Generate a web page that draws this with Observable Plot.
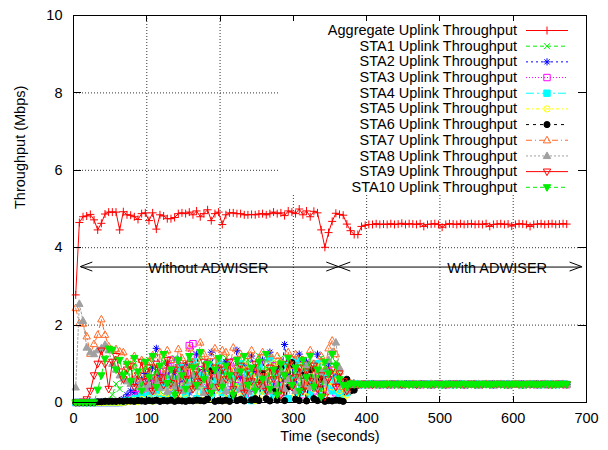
<!DOCTYPE html>
<html><head><meta charset="utf-8">
<script src="https://cdn.jsdelivr.net/npm/d3@7"></script>
<script src="https://cdn.jsdelivr.net/npm/@observablehq/plot@0.6"></script>
<style>body{margin:0;background:#fff}svg{display:block}</style>
</head><body><div id="chart"></div>
<script>
// sampling: first sample time and step (seconds)
const t0 = 3, dt = 5;

const aggregate = [
2.78,4.65,4.80,4.82,4.86, 4.72,4.46,4.63,4.87,4.92, 4.92,4.92,4.46,4.93,4.85, 4.84,4.80,4.73,4.88,4.90,
4.70,4.90,4.48,4.85,4.82, 4.75,4.75,4.78,4.88,4.90, 4.88,4.92,4.85,4.95,4.80, 4.88,4.98,4.70,4.88,4.92,
4.60,4.85,4.90,4.90,4.88, 4.88,4.85,4.85,4.86,4.85, 4.87,4.88,4.85,4.88,4.92, 4.88,4.90,4.83,4.95,4.92,
4.88,5.00,4.85,4.95,4.80, 4.94,4.90,4.46,4.01,4.39, 4.68,4.89,4.86,4.84,4.61,
4.44,4.34,4.34,4.55,4.58, 4.60,4.60,4.62,4.60,4.61, 4.60,4.62,4.60,4.61,4.63, 4.60,4.62,4.61,4.60,4.62,
4.55,4.60,4.61,4.62,4.60, 4.53,4.60,4.62,4.61,4.60, 4.62,4.60,4.61,4.62,4.60, 4.61,4.60,4.62,4.55,4.60,
4.61,4.62,4.60,4.61,4.56, 4.60,4.62,4.61,4.60,4.55, 4.60,4.61,4.62,4.60,4.61, 4.62,4.60,4.61,4.62,4.61];

const sta1 = [
0,0,0,0,0, 0,0,0,0,0.05, 0.20,0.48,0.35,0.65,0.80, 0.55,1.00,0.70,0.40,0.95, 1.10,0.60,0.85,0.30,1.05,
0.75,0.45,1.15,0.90,0.50, 1.00,0.65,0.35,0.95,1.20, 0.70,0.40,1.05,0.85,0.30, 0.90,1.15,0.55,0.75,1.00,
0.45,0.85,1.10,0.35,0.80, 1.20,0.60,0.90,0.40,1.05, 0.70,1.15,0.30,0.85,0.95, 0.50,1.10,0.75,0.35,1.00,
0.85,0.45,1.15,0.65,0.90, 0.55,1.05,0.70,0.40,0.35,
0.52,0.49,0.47,0.47,0.48,0.46,0.47,0.48,0.47,0.46, 0.47,0.48,0.46,0.47,0.47,0.48,0.47,0.46,0.47,0.48,
0.46,0.47,0.48,0.47,0.46,0.47,0.47,0.48,0.46,0.47, 0.48,0.47,0.46,0.47,0.48,0.47,0.46,0.47,0.47,0.48,
0.47,0.46,0.47,0.48,0.46,0.47,0.47,0.48,0.47,0.46, 0.47,0.48,0.47,0.46,0.47,0.48,0.47,0.46,0.47,0.47];

const sta2 = [
0,0,0,0,0, 0,0,0,0,0, 0,0,0.05,0.10,0.20, 0.30,0.25,0.45,0.60,0.75, 0.40,0.90,1.40,0.70,0.55,
1.00,0.35,0.80,1.10,0.50, 0.95,0.25,0.70,1.25,0.60, 0.85,0.40,1.30,0.55,0.90, 0.30,1.05,0.75,0.50,1.35,
0.65,0.95,0.35,1.20,0.80, 0.45,1.10,0.60,1.30,0.40, 0.85,0.55,1.50,0.70,0.95, 0.30,1.25,0.65,1.05,0.45,
0.90,1.25,0.55,0.80,1.00, 0.35,0.70,0.50,0.40,0.30,
0.45,0.50,0.48,0.47,0.46,0.47,0.48,0.47,0.46,0.47, 0.48,0.46,0.47,0.47,0.48,0.46,0.47,0.48,0.47,0.46,
0.47,0.48,0.47,0.46,0.47,0.48,0.46,0.47,0.47,0.48, 0.46,0.47,0.48,0.47,0.46,0.47,0.48,0.47,0.46,0.47,
0.48,0.47,0.46,0.47,0.47,0.48,0.46,0.47,0.48,0.47, 0.46,0.47,0.48,0.47,0.46,0.47,0.47,0.48,0.46,0.47];

const sta3 = [
0,0,0,0,0, 0,0,0,0,0, 0,0,0,0.02,0.05, 0.10,0.20,0.15,0.35,0.25, 0.50,0.30,0.65,0.45,0.80,
0.40,1.10,0.55,0.90,0.35, 0.75,1.47,1.52,0.60,0.85, 0.45,1.00,0.30,0.70,0.95, 0.50,0.80,0.25,1.05,0.60,
0.35,0.90,0.70,0.20,0.85, 1.00,0.45,0.65,0.30,0.95, 0.55,0.25,0.80,0.60,1.10, 0.40,0.70,0.20,0.90,0.55,
0.30,0.95,0.60,0.35,0.80, 0.50,0.25,0.45,0.35,0.30,
0.44,0.47,0.46,0.48,0.47,0.46,0.47,0.48,0.46,0.47, 0.47,0.46,0.48,0.47,0.46,0.47,0.48,0.47,0.47,0.46,
0.48,0.47,0.46,0.47,0.48,0.47,0.46,0.47,0.48,0.47, 0.47,0.46,0.47,0.48,0.47,0.46,0.47,0.47,0.48,0.46,
0.47,0.48,0.47,0.46,0.47,0.47,0.48,0.46,0.47,0.48, 0.47,0.46,0.47,0.48,0.46,0.47,0.47,0.48,0.47,0.46];

const sta4 = [
0,0,0,0,0, 0,0,0,0,0, 0,0,0,0.02,0.05, 0.05,0.10,0.05,0.15,0.08, 0.20,0.05,0.30,0.10,0.45,
0.15,0.60,0.08,0.35,0.90, 0.20,0.50,1.05,0.10,0.70, 0.30,0.95,0.15,0.55,1.10, 0.25,0.80,0.10,0.65,0.40,
1.00,0.20,0.75,0.05,0.50, 0.90,0.30,0.60,1.15,0.15, 0.70,0.40,0.95,0.10,0.55, 1.05,0.25,0.65,0.80,0.20,
0.50,1.00,0.15,0.75,0.45, 0.30,0.60,0.20,0.35,0.25,
0.46,0.47,0.48,0.46,0.47,0.48,0.47,0.46,0.47,0.48, 0.46,0.47,0.47,0.48,0.46,0.47,0.48,0.47,0.46,0.47,
0.47,0.48,0.46,0.47,0.47,0.46,0.48,0.47,0.46,0.47, 0.48,0.46,0.47,0.47,0.48,0.46,0.47,0.48,0.47,0.46,
0.47,0.47,0.48,0.46,0.47,0.48,0.47,0.46,0.47,0.47, 0.48,0.47,0.46,0.47,0.48,0.47,0.46,0.47,0.48,0.47];

const sta5 = [
0,0,0,0,0, 0,0,0,0,0, 0,0,0,0,0.02, 0.03,0.05,0.02,0.08,0.05, 0.10,0.03,0.15,0.05,0.25,
0.08,0.40,0.05,0.20,0.55, 0.10,0.35,0.80,0.05,0.45, 0.20,0.70,0.10,0.90,0.30, 0.60,0.05,0.85,0.25,0.50,
0.15,0.95,0.40,0.70,0.05, 0.55,0.20,0.80,0.35,1.00, 0.10,0.65,0.30,0.85,0.45, 0.20,0.90,0.50,0.15,0.75,
0.35,0.60,0.95,0.25,0.55, 0.40,0.70,0.30,0.10,0.20,
0.45,0.46,0.47,0.48,0.46,0.47,0.47,0.48,0.46,0.47, 0.48,0.47,0.46,0.47,0.48,0.46,0.47,0.47,0.48,0.47,
0.46,0.47,0.48,0.47,0.46,0.47,0.48,0.46,0.47,0.47, 0.48,0.47,0.46,0.48,0.47,0.46,0.47,0.48,0.47,0.46,
0.47,0.48,0.46,0.47,0.47,0.48,0.47,0.46,0.47,0.48, 0.46,0.47,0.47,0.48,0.46,0.47,0.48,0.47,0.46,0.47];

const sta6 = [
0,0,0,0,0, 0,0.02,0.02,0.03,0.03, 0.03,0.03,0.04,0.03,0.04, 0.04,0.03,0.05,0.04,0.03, 0.05,0.04,0.06,0.03,0.05,
0.04,0.06,0.03,0.05,0.04, 0.03,0.05,0.04,0.06,0.05, 0.04,0.10,0.82,0.03,0.05, 0.04,0.06,0.03,0.20,0.05,
0.08,0.04,0.55,0.06,0.10, 0.05,0.75,0.10,0.04,0.30, 0.06,0.90,0.05,0.40,1.03, 0.08,0.05,0.70,0.04,0.85,
0.10,0.05,0.60,0.03,0.05, 0.04,0.06,0.05,0.03,0.60,
0.30,0.32,0.45,0.47,0.46,0.47,0.48,0.47,0.46,0.47, 0.47,0.48,0.46,0.47,0.47,0.48,0.47,0.46,0.47,0.48,
0.46,0.47,0.48,0.47,0.46,0.47,0.47,0.48,0.46,0.47, 0.48,0.47,0.46,0.47,0.48,0.47,0.46,0.47,0.47,0.48,
0.47,0.46,0.47,0.48,0.46,0.47,0.47,0.48,0.47,0.46, 0.47,0.48,0.47,0.46,0.47,0.48,0.47,0.46,0.47,0.47];

const sta7 = [
2.44,2.05,2.04,1.71,1.26, 1.51,1.75,2.15,1.75,1.45, 1.35,1.38,1.32,1.30,1.05, 0.95,1.20,0.62,1.10,0.85, 1.05,1.22,0.55,1.30,0.75,
1.35,1.10,0.45,1.38,1.15, 0.70,1.40,1.05,0.60,1.55, 1.25,0.80,1.20,1.40,0.50, 1.35,1.30,0.85,1.42,0.95,
1.25,0.40,1.20,1.35,0.90, 1.15,1.30,0.65,1.25,0.80, 1.20,1.05,0.35,1.30,0.95, 1.25,0.70,1.10,0.45,1.35,
1.00,0.60,1.20,0.85,1.40, 1.60,1.25,0.80,0.40,0.35,
0.50,0.48,0.47,0.46,0.47,0.48,0.47,0.46,0.47,0.47, 0.48,0.46,0.47,0.48,0.47,0.46,0.47,0.48,0.47,0.46,
0.47,0.47,0.48,0.46,0.47,0.48,0.47,0.46,0.47,0.48, 0.47,0.46,0.47,0.47,0.48,0.46,0.47,0.48,0.47,0.46,
0.47,0.48,0.47,0.46,0.47,0.48,0.46,0.47,0.47,0.48, 0.47,0.46,0.47,0.48,0.47,0.46,0.47,0.47,0.48,0.47];

const sta8 = [
0.39,2.55,2.11,1.42,1.30, 1.25,1.35,1.40,1.49,1.35, 1.00,0.85,0.70,0.62,0.55, 0.48,0.60,0.40,0.52,0.35, 0.45,0.30,0.55,0.38,0.62,
0.28,0.50,0.42,0.65,0.30, 0.55,0.35,0.72,0.40,0.48, 0.25,0.60,0.45,0.38,0.70, 0.52,0.30,0.65,0.42,0.80,
0.35,0.55,0.28,0.62,0.45, 0.75,0.40,0.58,0.30,0.68, 0.45,0.85,0.35,0.60,0.50, 0.30,0.72,0.48,0.95,0.40,
0.62,0.35,0.80,0.55,1.10, 1.30,1.55,0.90,0.45,0.30,
0.47,0.46,0.48,0.47,0.46,0.47,0.48,0.47,0.46,0.47, 0.47,0.48,0.46,0.47,0.48,0.47,0.46,0.47,0.47,0.48,
0.46,0.47,0.48,0.47,0.46,0.47,0.47,0.48,0.46,0.47, 0.48,0.47,0.46,0.47,0.47,0.48,0.47,0.46,0.47,0.48,
0.46,0.47,0.47,0.48,0.46,0.47,0.48,0.47,0.46,0.47, 0.47,0.48,0.46,0.47,0.47,0.48,0.47,0.46,0.47,0.47];

const sta9 = [
0,0,0.02,0.08,0.30, 0.70,1.00,1.34,1.00,0.35, 1.05,1.20,0.80,0.60,0.85, 0.95,0.40,0.70,1.05,0.55, 0.90,0.30,1.00,0.65,0.45,
1.10,0.50,0.85,0.25,0.95, 0.60,1.00,0.35,0.80,0.55, 1.05,0.30,0.75,0.90,0.40, 0.85,0.60,1.05,0.35,0.70,
0.95,0.25,0.80,0.55,1.00, 0.45,0.75,0.30,0.90,0.60, 0.85,0.20,0.70,1.00,0.40, 0.65,0.90,0.30,0.80,0.55,
0.95,0.35,0.70,0.15,0.60, 0.85,0.40,0.75,0.55,0.30,
0.48,0.47,0.46,0.47,0.48,0.47,0.46,0.47,0.47,0.48, 0.46,0.47,0.48,0.47,0.46,0.47,0.47,0.48,0.46,0.47,
0.48,0.47,0.46,0.47,0.48,0.47,0.46,0.47,0.47,0.48, 0.47,0.46,0.47,0.48,0.46,0.47,0.47,0.48,0.47,0.46,
0.47,0.48,0.47,0.46,0.47,0.48,0.47,0.46,0.47,0.47, 0.48,0.46,0.47,0.48,0.47,0.46,0.47,0.48,0.47,0.47];

const sta10 = [
0,0,0,0,0, 0,0.33,0.70,1.13,1.39, 1.36,0.85,1.10,0.70,1.00, 0.55,1.15,0.80,0.30,1.05, 0.65,1.20,0.40,0.95,1.25,
0.50,0.85,0.20,1.10,0.70, 0.35,1.20,0.90,0.45,1.30, 0.60,1.00,0.25,0.85,1.15, 0.40,0.95,0.70,0.20,1.10,
0.80,1.20,0.45,0.90,0.30, 1.05,0.60,1.25,0.35,0.85, 0.20,1.00,0.70,1.15,0.45, 0.90,0.30,1.10,0.65,1.20,
0.40,0.85,0.15,1.05,0.75, 1.25,0.95,0.60,0.45,0.40,
0.49,0.47,0.48,0.47,0.46,0.47,0.48,0.47,0.47,0.46, 0.48,0.47,0.46,0.47,0.48,0.47,0.46,0.47,0.48,0.47,
0.47,0.46,0.47,0.48,0.47,0.46,0.47,0.48,0.47,0.46, 0.47,0.48,0.47,0.47,0.46,0.47,0.48,0.47,0.46,0.47,
0.48,0.47,0.46,0.47,0.47,0.48,0.47,0.46,0.47,0.48, 0.47,0.46,0.47,0.48,0.47,0.46,0.47,0.47,0.48,0.47];

const seriesNames = ["Aggregate Uplink Throughput","STA1 Uplink Throughput","STA2 Uplink Throughput",
  "STA3 Uplink Throughput","STA4 Uplink Throughput","STA5 Uplink Throughput","STA6 Uplink Throughput",
  "STA7 Uplink Throughput","STA8 Uplink Throughput","STA9 Uplink Throughput","STA10 Uplink Throughput"];
const seriesValues = [aggregate, sta1, sta2, sta3, sta4, sta5, sta6, sta7, sta8, sta9, sta10];

const xTicks = [0,100,200,300,400,500,600,700];
const yTicks = [0,2,4,6,8,10];
const xTitle = "Time (seconds)";
const yTitle = "Throughput (Mbps)";

// phase annotations (double-headed arrows)
const phaseLabels = ["Without ADWISER", "With ADWISER"];
const phaseFrom = [10, 362];
const phaseTo = [362, 694];
const phaseLabelX = [184, 578];
const phaseY = 3.5;

// ---------- styles ----------
const FONT = "'Liberation Sans', Arial, Helvetica, sans-serif";
const FS = 14.5;
const colors = ["#ff0000","#00ee00","#0000ff","#ff00ff","#00ffff","#ffff00","#000000","#ff6a28","#a0a0a0","#ff0000","#00ee00"];
const dashes = [null,"4,3","2,3","1,2","8,3,2,3","3,3,1,3","3,4","6,3,1,3","2,2",null,"4,3"];
const sym = {
  plus:{draw(c){c.moveTo(-4,0);c.lineTo(4,0);c.moveTo(0,-4);c.lineTo(0,4);}},
  times:{draw(c){c.moveTo(-3,-3);c.lineTo(3,3);c.moveTo(-3,3);c.lineTo(3,-3);}},
  star:{draw(c){c.moveTo(-3.6,0);c.lineTo(3.6,0);c.moveTo(0,-3.6);c.lineTo(0,3.6);c.moveTo(-2.6,-2.6);c.lineTo(2.6,2.6);c.moveTo(-2.6,2.6);c.lineTo(2.6,-2.6);}},
  square:{draw(c){c.rect(-3.2,-3.2,6.4,6.4);}},
  circle:{draw(c){c.moveTo(3.1,0);c.arc(0,0,3.1,0,2*Math.PI);}},
  triUp:{draw(c){c.moveTo(0,-4);c.lineTo(3.7,2.6);c.lineTo(-3.7,2.6);c.closePath();}},
  triDown:{draw(c){c.moveTo(0,4);c.lineTo(3.7,-2.6);c.lineTo(-3.7,-2.6);c.closePath();}}
};
const symbols = [sym.plus, sym.times, sym.star, sym.square, sym.square, sym.circle, sym.circle, sym.triUp, sym.triUp, sym.triDown, sym.triDown];
const filled = [false,false,false,false,true,false,true,false,true,false,true];

const seriesData = seriesValues.map(vals => vals.map((v, i) => ({t: t0 + i * dt, v})));

const marks = [
  Plot.gridX(xTicks.slice(1, -1), {stroke: "#333", strokeOpacity: 1, strokeDasharray: "1,2"}),
  Plot.gridY(yTicks.slice(1, -1), {stroke: "#333", strokeOpacity: 1, strokeDasharray: "1,2"}),
  Plot.axisX(xTicks, {tickSize: 0, tickPadding: 10, fontSize: FS, label: null}),
  Plot.axisY(yTicks, {tickSize: 0, tickPadding: 11, fontSize: FS, label: null}),
];
seriesData.forEach((d, i) => {
  marks.push(Plot.line(d, {x: "t", y: "v", stroke: colors[i], strokeWidth: 1, strokeDasharray: dashes[i]}));
  marks.push(Plot.dot(d, {x: "t", y: "v", symbol: symbols[i], r: 3.5,
    stroke: colors[i], strokeWidth: 1, fill: filled[i] ? colors[i] : "none"}));
});
const phases = phaseLabels.map((label, i) => ({label, x1: phaseFrom[i], x2: phaseTo[i], lx: phaseLabelX[i], y: phaseY}));
marks.push(Plot.link(phases, {x1: "x1", x2: "x2", y1: "y", y2: "y", stroke: "#000", strokeWidth: 1}));
marks.push(Plot.text(phases, {x: "lx", y: "y", text: "label", fontSize: FS, fill: "#000", dy: 1}));
marks.push(Plot.text([xTitle], {frameAnchor: "bottom", text: d => d, dy: 38, fontSize: FS, fill: "#000"}));
marks.push(Plot.text([yTitle], {frameAnchor: "left", text: d => d, dx: -53, rotate: -90, fontSize: FS, fill: "#000"}));

const plot = Plot.plot({
  width: 608, height: 450,
  marginLeft: 73, marginRight: 22, marginTop: 15, marginBottom: 48,
  style: {fontFamily: FONT, fontSize: FS + "px", background: "#fff", color: "#000"},
  x: {domain: [0, 700]},
  y: {domain: [0, 10]},
  marks
});
document.getElementById("chart").appendChild(plot);

// ---------- post-render: arrowheads, legend, frame, ticks ----------
const sx = plot.scale("x"), sy = plot.scale("y");
const svg = d3.select(plot);
const X0 = sx.apply(0), X1 = sx.apply(700), Y0 = sy.apply(0), Y1 = sy.apply(10);

// arrowheads (open, gnuplot style)
const ah = svg.append("g").attr("stroke", "#000").attr("fill", "none").attr("stroke-width", 1);
phases.forEach(p => {
  const ya = sy.apply(p.y), xa = sx.apply(p.x1), xb = sx.apply(p.x2);
  ah.append("path").attr("d", `M${xa + 12},${ya - 4.5}L${xa},${ya}L${xa + 12},${ya + 4.5}`);
  ah.append("path").attr("d", `M${xb - 12},${ya - 4.5}L${xb},${ya}L${xb - 12},${ya + 4.5}`);
});

// legend (opaque key box)
const lg = svg.append("g").attr("font-family", FONT).attr("font-size", FS);
lg.append("rect").attr("x", 278).attr("y", Y1).attr("width", X1 - 278).attr("height", 194 - Y1).attr("fill", "#fff");
seriesNames.forEach((name, i) => {
  const yy = 30 + i * 15.68;
  lg.append("text").attr("x", 517).attr("y", yy).attr("dy", "0.35em").attr("text-anchor", "end").attr("fill", "#000").text(name);
  lg.append("line").attr("x1", 526).attr("x2", 568).attr("y1", yy + 0.5).attr("y2", yy + 0.5)
    .attr("stroke", colors[i]).attr("stroke-width", 1).attr("stroke-dasharray", dashes[i]);
  lg.append("path").attr("transform", `translate(547,${yy + 0.5})`).attr("d", d3.symbol(symbols[i])())
    .attr("stroke", colors[i]).attr("stroke-width", 1).attr("fill", filled[i] ? colors[i] : "none");
});

// frame and inward ticks on all four sides
const fr = svg.append("g").attr("stroke", "#000").attr("fill", "none").attr("stroke-width", 1);
fr.append("rect").attr("x", X0 + 0.5).attr("y", Y1 + 0.5).attr("width", X1 - X0).attr("height", Y0 - Y1);
xTicks.forEach(v => {
  const x = Math.round(sx.apply(v)) + 0.5;
  fr.append("path").attr("d", `M${x},${Y0}v-6M${x},${Y1}v6`);
});
yTicks.forEach(v => {
  const y = Math.round(sy.apply(v)) + 0.5;
  fr.append("path").attr("d", `M${X0},${y}h8M${X1},${y}h-8`);
});
</script>
</body></html>
